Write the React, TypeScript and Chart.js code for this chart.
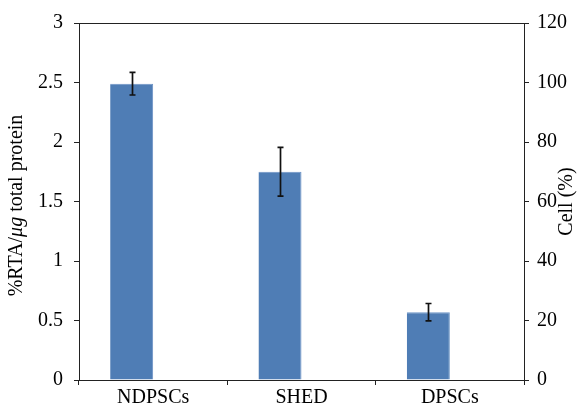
import React, { useEffect, useRef } from "react";
import { Chart, registerables } from "chart.js";

Chart.register(...registerables);

const categories = ["NDPSCs", "SHED", "DPSCs"];
const rtaValues = [2.49, 1.75, 0.57];
const rtaErrors = [0.095, 0.205, 0.073];
const cellValues: (number | null)[] = [null, null, null];
const leftTicks = [0, 0.5, 1, 1.5, 2, 2.5, 3];
const rightTicks = [0, 20, 40, 60, 80, 100, 120];
// left title parts: [text, italic]
const leftTitleParts: [string, boolean][] = [
  ["%RTA/", false],
  ["μg", true],
  [" total protein", false],
];
const rightTitle = "Cell (%)";

const FONT = "'Liberation Serif', 'Times New Roman', serif";
const INK = "#222";

const errorBarPlugin = {
  id: "errorBars",
  afterDatasetsDraw(chart: any) {
    const meta = chart.getDatasetMeta(0);
    const y = chart.scales.y;
    const ctx = chart.ctx;
    ctx.save();
    ctx.strokeStyle = "#111";
    ctx.lineWidth = 1.7;
    meta.data.forEach((bar: any, i: number) => {
      const v = rtaValues[i];
      const e = rtaErrors[i];
      const yTop = y.getPixelForValue(v + e);
      const yBot = y.getPixelForValue(v - e);
      const x = Math.round(bar.x) + 0.5;
      ctx.beginPath();
      ctx.moveTo(x, yTop);
      ctx.lineTo(x, yBot);
      ctx.moveTo(x - 3, yTop);
      ctx.lineTo(x + 3, yTop);
      ctx.moveTo(x - 3, yBot);
      ctx.lineTo(x + 3, yBot);
      ctx.stroke();
    });
    ctx.restore();
  },
};

const framePlugin = {
  id: "frameExtras",
  afterDraw(chart: any) {
    const { ctx, chartArea } = chart;
    const midY = (chartArea.top + chartArea.bottom) / 2;
    ctx.save();
    ctx.strokeStyle = INK;
    ctx.lineWidth = 1;
    ctx.beginPath();
    ctx.moveTo(chartArea.left, chartArea.top + 0.5);
    ctx.lineTo(chartArea.right, chartArea.top + 0.5);
    ctx.stroke();

    ctx.fillStyle = "#000";
    ctx.textBaseline = "middle";

    // right axis title, reading bottom-to-top
    const y1 = chart.scales.y1;
    ctx.save();
    ctx.font = `20px ${FONT}`;
    ctx.textAlign = "center";
    ctx.translate(y1.right - 21, midY);
    ctx.rotate(-Math.PI / 2);
    ctx.fillText(rightTitle, 0, 0);
    ctx.restore();

    // left axis title with italic μg
    const y = chart.scales.y;
    ctx.save();
    const fontFor = (it: boolean) => `${it ? "italic " : ""}20px ${FONT}`;
    let total = 0;
    const widths = leftTitleParts.map(([t, it]) => {
      ctx.font = fontFor(it);
      const w = ctx.measureText(t).width;
      total += w;
      return w;
    });
    ctx.translate(y.left + 17, midY + 4);
    ctx.rotate(-Math.PI / 2);
    ctx.textAlign = "left";
    let x = -total / 2;
    leftTitleParts.forEach(([t, it], i) => {
      ctx.font = fontFor(it);
      ctx.fillText(t, x, 0);
      x += widths[i];
    });
    ctx.restore();

    ctx.restore();
  },
};

export default function App() {
  const ref = useRef<HTMLCanvasElement | null>(null);

  useEffect(() => {
    if (!ref.current) return;
    const fmt = (v: any) => String(Number(v));
    const chart = new Chart(ref.current, {
      type: "bar",
      data: {
        labels: categories,
        datasets: [
          {
            label: "%RTA",
            data: rtaValues,
            backgroundColor: "#4F7DB5",
            borderColor: "#6B93C6",
            borderWidth: { top: 1, right: 1, left: 0, bottom: 0 } as any,
            yAxisID: "y",
          },
          {
            label: "Cell",
            data: cellValues,
            backgroundColor: "#C0504D",
            yAxisID: "y1",
          },
        ],
      },
      options: {
        animation: false,
        responsive: true,
        maintainAspectRatio: false,
        layout: { padding: { top: 20, bottom: 0, left: 0, right: 0 } },
        plugins: {
          legend: { display: false },
          tooltip: { enabled: false },
        },
        datasets: {
          bar: { categoryPercentage: 0.58, barPercentage: 1 },
        },
        scales: {
          x: {
            offset: true,
            grid: {
              display: true,
              offset: true,
              drawOnChartArea: false,
              drawTicks: true,
              tickLength: 5,
              color: INK,
            },
            border: { display: true, color: INK, width: 1 },
            ticks: {
              color: "#000",
              font: { family: FONT, size: 20 },
              padding: 1,
              maxRotation: 0,
            },
            afterFit(scale: any) {
              scale.height = 29;
            },
          },
          y: {
            position: "left",
            min: 0,
            max: 3,
            afterBuildTicks(scale: any) {
              scale.ticks = leftTicks.map((v) => ({ value: v }));
            },
            grid: {
              display: true,
              drawOnChartArea: false,
              drawTicks: true,
              tickLength: 5,
              color: INK,
            },
            border: { display: true, color: INK, width: 1 },
            ticks: {
              color: "#000",
              font: { family: FONT, size: 20 },
              padding: 11,
              callback: fmt,
            },
            title: { display: false },
            afterFit(scale: any) {
              scale.width = 79;
            },
          },
          y1: {
            position: "right",
            min: 0,
            max: 120,
            afterBuildTicks(scale: any) {
              scale.ticks = rightTicks.map((v) => ({ value: v }));
            },
            grid: {
              display: true,
              drawOnChartArea: false,
              drawTicks: true,
              tickLength: 5,
              color: INK,
            },
            border: { display: true, color: INK, width: 1 },
            ticks: {
              color: "#000",
              font: { family: FONT, size: 20 },
              padding: 8,
              callback: fmt,
            },
            title: { display: false },
            afterFit(scale: any) {
              scale.width = 64;
            },
          },
        },
      },
      plugins: [errorBarPlugin, framePlugin],
    });
    return () => chart.destroy();
  }, []);

  return (
    <div
      style={{
        position: "absolute",
        left: 0,
        top: 0,
        width: 588,
        height: 409,
        background: "#fff",
      }}
    >
      <canvas ref={ref} />
    </div>
  );
}
